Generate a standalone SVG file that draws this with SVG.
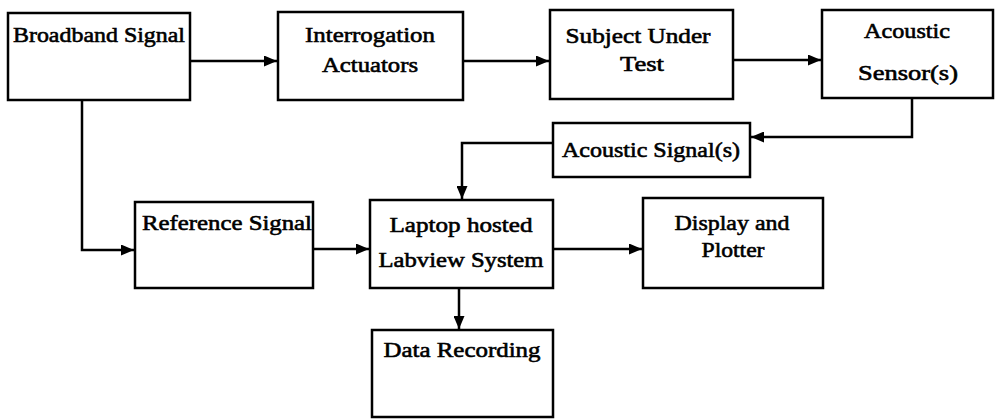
<svg xmlns="http://www.w3.org/2000/svg" width="996" height="419" viewBox="0 0 996 419">
<defs>
<marker id="ah" viewBox="0 0 13 11" refX="13" refY="5.5" markerWidth="13" markerHeight="11" markerUnits="userSpaceOnUse" orient="auto">
<path d="M0,0 L13,5.5 L0,11 Z" fill="#000"/>
</marker>
<style>
.box{fill:#fff;stroke:#000;stroke-width:2.5}
.t{font-family:"Liberation Serif","Times New Roman",serif;font-size:22px;fill:#000;stroke:#000;stroke-width:0.6;text-anchor:middle}
.c{fill:none;stroke:#000;stroke-width:2.5;marker-end:url(#ah)}
</style>
</defs>
<rect width="996" height="419" fill="#fff"/>
<g id="connectors">
<path class="c" d="M190,61 H277"/>
<path class="c" d="M463,61 H549"/>
<path class="c" d="M733,60 H821"/>
<path class="c" d="M912,98 V137 H751"/>
<path class="c" d="M553,143 H462 V199"/>
<path class="c" d="M82,100 V250 H134"/>
<path class="c" d="M313,249 H369"/>
<path class="c" d="M553,249 H642"/>
<path class="c" d="M459,288 V329"/>
</g>
<g id="broadband"><rect class="box" x="8" y="13" width="182" height="87"/><text class="t" x="99" y="42" textLength="172" lengthAdjust="spacingAndGlyphs">Broadband Signal</text></g>
<g id="interrogation"><rect class="box" x="278" y="12" width="185" height="88"/><text class="t" x="370" y="42" textLength="130" lengthAdjust="spacingAndGlyphs">Interrogation</text><text class="t" x="370" y="72" textLength="96" lengthAdjust="spacingAndGlyphs">Actuators</text></g>
<g id="subject"><rect class="box" x="550" y="10" width="183" height="89"/><text class="t" x="638" y="43" textLength="145" lengthAdjust="spacingAndGlyphs">Subject Under</text><text class="t" x="642" y="71" textLength="44" lengthAdjust="spacingAndGlyphs">Test</text></g>
<g id="sensor"><rect class="box" x="822" y="10" width="171" height="88"/><text class="t" x="907" y="38" textLength="86" lengthAdjust="spacingAndGlyphs">Acoustic</text><text class="t" x="908" y="80" textLength="100" lengthAdjust="spacingAndGlyphs">Sensor(s)</text></g>
<g id="acsignal"><rect class="box" x="553" y="123" width="197" height="54"/><text class="t" x="651" y="157" textLength="178" lengthAdjust="spacingAndGlyphs">Acoustic Signal(s)</text></g>
<g id="reference"><rect class="box" x="135" y="202" width="178" height="86"/><text class="t" x="227" y="230" textLength="170" lengthAdjust="spacingAndGlyphs">Reference Signal</text></g>
<g id="laptop"><rect class="box" x="370" y="200" width="183" height="88"/><text class="t" x="461" y="232" textLength="143" lengthAdjust="spacingAndGlyphs">Laptop hosted</text><text class="t" x="461" y="267" textLength="165" lengthAdjust="spacingAndGlyphs">Labview System</text></g>
<g id="display"><rect class="box" x="643" y="198" width="180" height="90"/><text class="t" x="732" y="230" textLength="115" lengthAdjust="spacingAndGlyphs">Display and</text><text class="t" x="733" y="257" textLength="63" lengthAdjust="spacingAndGlyphs">Plotter</text></g>
<g id="recording"><rect class="box" x="372" y="330" width="181" height="87"/><text class="t" x="462" y="357" textLength="157" lengthAdjust="spacingAndGlyphs">Data Recording</text></g>
</svg>
